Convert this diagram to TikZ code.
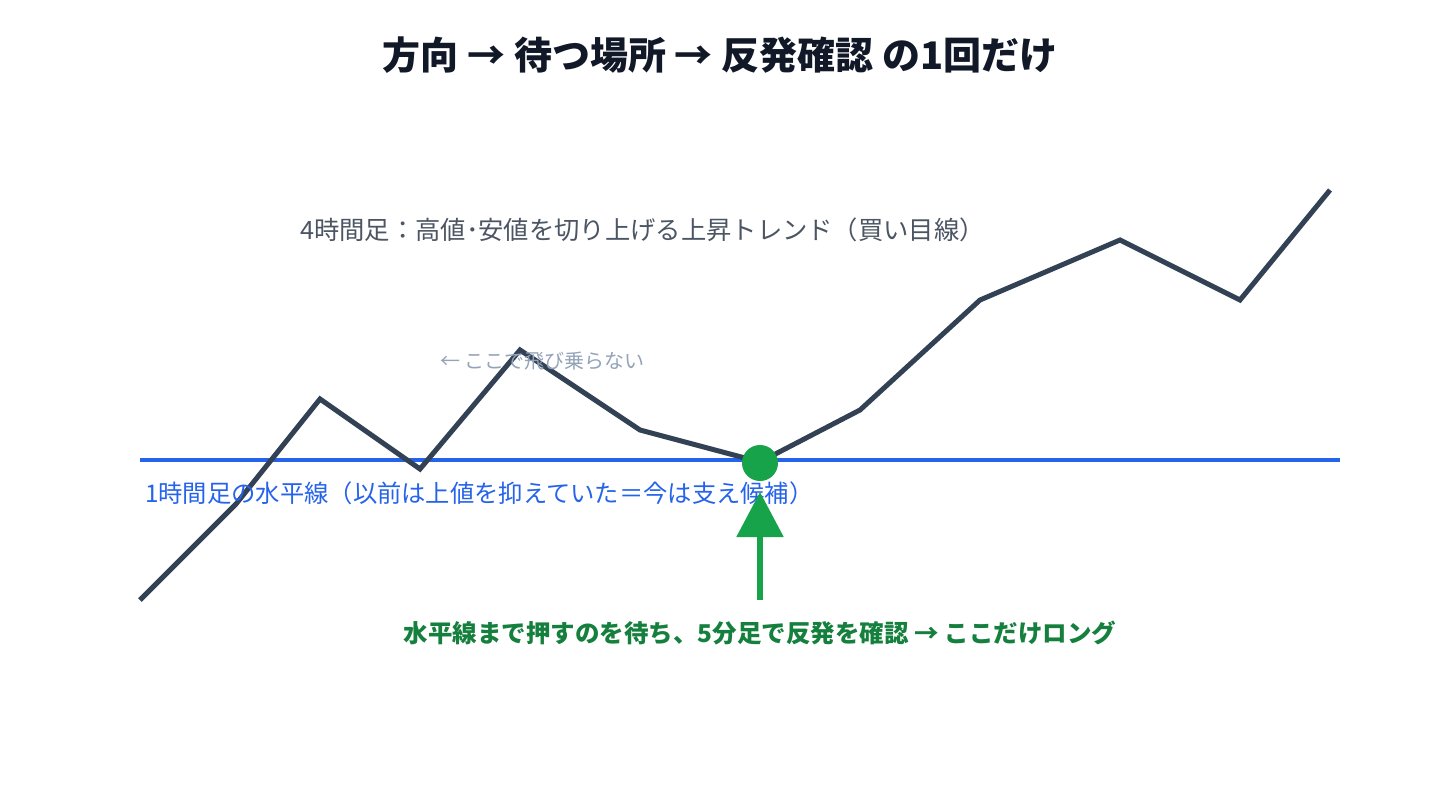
\documentclass[tikz,border=0pt]{standalone}
\usepackage{fontspec}
\setmainfont{Noto Sans CJK JP}
\usetikzlibrary{arrows.meta}
\definecolor{ink}{HTML}{111827}
\definecolor{price}{HTML}{334155}
\definecolor{trendgray}{HTML}{4B5563}
\definecolor{softgray}{HTML}{94A3B8}
\definecolor{lineblue}{HTML}{2563EB}
\definecolor{dotgreen}{HTML}{16A34A}
\definecolor{textgreen}{HTML}{15803D}
\tikzset{
  titletext/.style={font=\fontsize{38bp}{44bp}\selectfont\bfseries, text=ink, inner sep=0pt},
  trendtext/.style={font=\fontsize{25.3bp}{30bp}\selectfont, text=trendgray, inner sep=0pt, anchor=west},
  notetext/.style={font=\fontsize{20bp}{24bp}\selectfont, text=softgray, inner sep=0pt, anchor=west},
  leveltext/.style={font=\fontsize{24.3bp}{28bp}\selectfont, text=lineblue, inner sep=0pt, anchor=west},
  entrytext/.style={font=\fontsize{24.5bp}{28bp}\selectfont\bfseries, text=textgreen, inner sep=0pt},
  priceline/.style={draw=price, line width=5bp, line join=miter},
  levelline/.style={draw=lineblue, line width=4bp},
  entrydot/.style={circle, fill=dotgreen, minimum size=36bp, inner sep=0pt},
  entryarrow/.style={draw=dotgreen, line width=5.5bp, -{Triangle[width=46bp,length=45bp]}},
}
\begin{document}
\begin{tikzpicture}[x=1bp,y=-1bp]
\useasboundingbox[fill=white] (0,0) rectangle (1440,800);
% price path points
\coordinate (p0) at (140,600);
\coordinate (p1) at (236,504);
\coordinate (p2) at (320,399);
\coordinate (p3) at (420,469);
\coordinate (p4) at (520,350);
\coordinate (p5) at (640,430);
\coordinate (p6) at (760,462);
\coordinate (p7) at (860,410);
\coordinate (p8) at (980,300);
\coordinate (p9) at (1120,240);
\coordinate (p10) at (1240,300);
\coordinate (p11) at (1330,190);
% level line
\coordinate (l0) at (140,460);
\coordinate (l1) at (1340,460);
\draw[levelline] (l0) -- (l1);
\draw[priceline] (p0) -- (p1) -- (p2) -- (p3) -- (p4) -- (p5) -- (p6) -- (p7) -- (p8) -- (p9) -- (p10) -- (p11);
% texts
\node[titletext] (title) at (720,55) {方向 → 待つ場所 → 反発確認 の1回だけ};
\node[trendtext] (trend) at (300,230) {4時間足：高値･安値を切り上げる上昇トレンド（買い目線）};
\node[notetext] (note) at (440,361) {← ここで飛び乗らない};
\node[leveltext] (level) at (145,493) {1時間足の水平線（以前は上値を抑えていた＝今は支え候補）};
% entry
\node[entrydot] (dot) at (760,463) {};
\coordinate (abase) at (760,600);
\coordinate (atip) at (760,492);
\draw[entryarrow] (abase) -- (atip);
\node[entrytext] (entry) at (760,633) {水平線まで押すのを待ち、5分足で反発を確認 → ここだけロング};
\end{tikzpicture}
\end{document}
